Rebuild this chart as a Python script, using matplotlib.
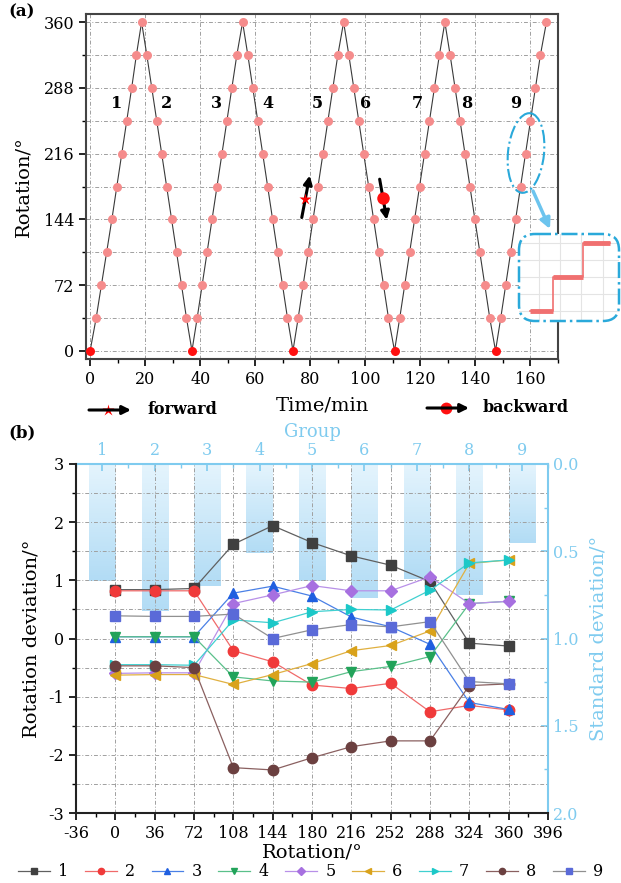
import numpy as np
import matplotlib.pyplot as plt
from matplotlib.patches import Ellipse, FancyBboxPatch
from matplotlib.colors import LinearSegmentedColormap
from matplotlib.ticker import MultipleLocator

plt.rcParams['font.family'] = ['DejaVu Serif']
plt.rcParams['mathtext.fontset'] = 'dejavuserif'
plt.rcParams['axes.unicode_minus'] = False

# ---- panel (a) data: rotation steps vs time ----
time_min = [
    0.0, 2.2, 4.1, 6.0, 7.9, 9.7, 11.5, 13.3, 15.1, 16.8, 18.7,
    20.6, 22.4, 24.2, 26.0, 27.8, 29.6, 31.4, 33.2, 35.0, 37.0,
    38.9, 40.7, 42.5, 44.3, 46.1, 47.9, 49.7, 51.5, 53.3, 55.4,
    57.3, 59.1, 60.9, 62.7, 64.5, 66.3, 68.1, 69.9, 71.7, 73.7,
    75.6, 77.4, 79.2, 81.0, 82.8, 84.6, 86.4, 88.2, 90.0, 92.1,
    94.0, 95.8, 97.6, 99.4, 101.2, 103.0, 104.8, 106.6, 108.4, 110.6,
    112.5, 114.3, 116.1, 117.9, 119.7, 121.5, 123.3, 125.1, 126.9, 128.9,
    130.8, 132.6, 134.4, 136.2, 138.0, 139.8, 141.6, 143.4, 145.2, 147.3,
    149.2, 151.0, 152.8, 154.6, 156.4, 158.2, 160.0, 161.8, 163.6, 165.8,
]
up_steps = [0, 36, 72, 108, 144, 180, 216, 252, 288, 324, 360]
down_steps = [324, 288, 252, 216, 180, 144, 108, 72, 36, 0]
rotation_deg = up_steps + down_steps + up_steps[1:] + down_steps + up_steps[1:] + down_steps \
    + up_steps[1:] + down_steps + up_steps[1:]

group_ids = [1, 2, 3, 4, 5, 6, 7, 8, 9]
group_label_t = [9.8, 27.6, 46.0, 64.6, 82.4, 100.0, 119.0, 136.8, 154.6]

# inset staircase (zoom of group 9)
inset_t = [155.86, 157.3, 157.3, 159.1, 159.1, 160.78]
inset_r = [180, 180, 216, 216, 252, 252]

# ---- panel (b) data ----
rot_pts = [0, 36, 72, 108, 144, 180, 216, 252, 288, 324, 360]
deviation = {
    '1': [0.84, 0.84, 0.86, 1.62, 1.94, 1.65, 1.42, 1.26, 0.98, -0.08, -0.13],
    '2': [0.82, 0.82, 0.82, -0.21, -0.40, -0.80, -0.86, -0.77, -1.26, -1.15, -1.23],
    '3': [0.03, 0.03, 0.03, 0.78, 0.90, 0.73, 0.37, 0.20, -0.10, -1.10, -1.22],
    '4': [0.03, 0.03, 0.03, -0.66, -0.73, -0.75, -0.57, -0.48, -0.31, 0.60, 0.64],
    '5': [-0.60, -0.59, -0.59, 0.60, 0.75, 0.91, 0.82, 0.82, 1.06, 0.60, 0.64],
    '6': [-0.63, -0.62, -0.62, -0.79, -0.62, -0.43, -0.21, -0.12, 0.13, 1.29, 1.35],
    '7': [-0.45, -0.45, -0.46, 0.32, 0.27, 0.46, 0.50, 0.49, 0.83, 1.30, 1.35],
    '8': [-0.47, -0.47, -0.50, -2.22, -2.26, -2.05, -1.86, -1.76, -1.76, -0.81, -0.78],
    '9': [0.39, 0.38, 0.38, 0.42, 0.00, 0.15, 0.24, 0.20, 0.29, -0.74, -0.78],
}
std_dev = [0.67, 0.84, 0.70, 0.51, 0.67, 0.77, 0.66, 0.75, 0.45]

marker_colors = ['#404040', '#F03A3A', '#1F5FE0', '#22A35A', '#A770E0',
                 '#D9A21B', '#1CC8C8', '#6B4040', '#5A6AD8']
line_colors = ['#606060', '#F06A6A', '#4A80E6', '#5AC08A', '#B890E8',
               '#E0B040', '#40D0D0', '#8A6060', '#909090']
markers = ['s', 'o', '^', 'v', 'D', '<', '>', 'o', 's']

blue = '#7FCBEF'
grid_kw = dict(color='#A0A0A0', lw=0.7, ls=(0, (4, 2, 1, 2)))

W, H = 621, 883
fig = plt.figure(figsize=(W / 100, H / 100), dpi=100)


def box(l, t, r, b):
    return [l / W, 1 - b / H, (r - l) / W, (b - t) / H]


# ================= panel (a) =================
ax = fig.add_axes(box(86, 14, 558, 359))
t = np.array(time_min)
r = np.array(rotation_deg)
ax.plot(t, r, color='#3A3A3A', lw=0.8, zorder=2)
zero = r == 0
ax.plot(t[~zero], r[~zero], 'o', color='#F58C8C', ms=6.5, mec='none', zorder=3)
ax.plot(t[zero], r[zero], 'o', color='#FF1010', ms=6.5, mec='none', zorder=3)
ax.set_xlim(-1.5, 170)
ax.set_ylim(-9, 369)
ax.xaxis.set_major_locator(MultipleLocator(20))
ax.xaxis.set_minor_locator(MultipleLocator(10))
ax.yaxis.set_major_locator(MultipleLocator(72))
ax.yaxis.set_minor_locator(MultipleLocator(36))
ax.grid(which='major', axis='x', **grid_kw)
ax.grid(which='both', axis='y', **grid_kw)
ax.set_axisbelow(True)
ax.tick_params(which='major', direction='out', length=5, width=1.2, labelsize=11.5)
ax.tick_params(which='minor', direction='out', length=3, width=1.0)
for s in ax.spines.values():
    s.set_color('#444444')
    s.set_linewidth(1.5)
ax.set_xlabel('Time/min', fontsize=14, labelpad=6)
ax.set_ylabel('Rotation/°', fontsize=14, labelpad=8)

for g, gt in zip(group_ids, group_label_t):
    ax.text(gt, 271, str(g), fontsize=11.5, fontweight='bold', ha='center', va='center')

ax.annotate('', xy=(79.8, 192), xytext=(76.9, 146),
            arrowprops=dict(arrowstyle='-|>,head_width=0.25,head_length=0.5',
                            color='black', lw=2.2, shrinkA=0, shrinkB=0), zorder=4)
ax.plot(78.0, 166, marker='*', color='red', ms=9, mec='none', zorder=5)
ax.annotate('', xy=(107.8, 143.5), xytext=(105.2, 188),
            arrowprops=dict(arrowstyle='-|>,head_width=0.25,head_length=0.5',
                            color='black', lw=2.2, shrinkA=0, shrinkB=0), zorder=4)
ax.plot(106.4, 167, 'o', color='#FF1010', ms=9, mec='none', zorder=5)

# inset
ins = fig.add_axes(box(519, 234, 619, 321))
ins.set_facecolor('white')
ins.set_xlim(155.2, 161.3)
ins.set_ylim(169.7, 261.3)
ins.set_xticks([156.4, 157.7, 159.0, 160.3])
ins.set_yticks([180, 198, 216, 234, 252])
ins.grid(color='#E4E4E4', lw=0.8)
ins.tick_params(length=0, labelbottom=False, labelleft=False)
for s in ins.spines.values():
    s.set_visible(False)
ins.plot(inset_t, inset_r, color='#F07070', lw=1.2)
for i in range(0, len(inset_t), 2):
    ins.plot(inset_t[i:i + 2], inset_r[i:i + 2], color='#F07070', lw=3.5, solid_capstyle='butt')

# ================= panel (b) =================
ax_bar = fig.add_axes(box(76, 464, 548, 813))
ax_b = fig.add_axes(box(76, 464, 548, 813))
ax_b.set_zorder(ax_bar.get_zorder() + 1)
ax_b.patch.set_visible(False)

cmap = LinearSegmentedColormap.from_list('barfade', ['#E4F4FD', '#B2DCF5'])
grad = np.linspace(1, 0, 64)[:, None]
for g, sd in zip(group_ids, std_dev):
    ax_bar.imshow(grad, extent=[g - 0.25, g + 0.25, sd, 0], origin='lower',
                  aspect='auto', cmap=cmap, vmin=0, vmax=1, zorder=1)
ax_bar.set_xlim(0.5, 9.5)
ax_bar.set_ylim(2.0, 0.0)
ax_bar.xaxis.tick_top()
ax_bar.yaxis.tick_right()
ax_bar.xaxis.set_label_position('top')
ax_bar.yaxis.set_label_position('right')
ax_bar.set_xticks(group_ids)
ax_bar.xaxis.set_minor_locator(MultipleLocator(0.5))
ax_bar.yaxis.set_major_locator(MultipleLocator(0.5))
ax_bar.yaxis.set_minor_locator(MultipleLocator(0.25))
ax_bar.yaxis.set_major_formatter(plt.FormatStrFormatter('%.1f'))
ax_bar.tick_params(which='major', direction='in', length=5, width=1.2, colors=blue, labelsize=11.5)
ax_bar.tick_params(which='minor', direction='in', length=3, width=1.0, colors=blue)
ax_bar.spines['left'].set_visible(False)
ax_bar.spines['bottom'].set_visible(False)
for side in ['top', 'right']:
    ax_bar.spines[side].set_color(blue)
    ax_bar.spines[side].set_linewidth(1.5)
ax_bar.set_xlabel('Group', color=blue, fontsize=13, labelpad=4)
ax_bar.set_ylabel('Standard deviation/°', color=blue, fontsize=14, labelpad=8)

for v in np.arange(0, 361, 36):
    ax_b.axvline(v, zorder=0, **grid_kw)
for h in np.arange(-2.5, 2.6, 0.5):
    ax_b.axhline(h, zorder=0, **grid_kw)

handles = []
for i, (name, vals) in enumerate(deviation.items()):
    ln, = ax_b.plot(rot_pts, vals, color=line_colors[i], lw=0.9, marker=markers[i],
                    ms=7.5 if markers[i] != 'D' else 6.5, mfc=marker_colors[i],
                    mec=marker_colors[i], zorder=3 + i)
    handles.append(ln)

ax_b.set_xlim(-36, 396)
ax_b.set_ylim(-3, 3)
ax_b.xaxis.set_major_locator(MultipleLocator(36))
ax_b.xaxis.set_minor_locator(MultipleLocator(18))
ax_b.yaxis.set_major_locator(MultipleLocator(1))
ax_b.yaxis.set_minor_locator(MultipleLocator(0.5))
ax_b.tick_params(which='major', direction='out', length=5, width=1.2, labelsize=11.5)
ax_b.tick_params(which='minor', direction='out', length=3, width=1.0)
ax_b.spines['top'].set_visible(False)
ax_b.spines['right'].set_visible(False)
for side in ['left', 'bottom']:
    ax_b.spines[side].set_color('#222222')
    ax_b.spines[side].set_linewidth(1.5)
ax_b.set_xlabel('Rotation/°', fontsize=14, labelpad=1)
ax_b.set_ylabel('Rotation deviation/°', fontsize=14, labelpad=6)

fig.legend(handles, list(deviation.keys()), ncol=9, loc='center',
           bbox_to_anchor=(0.5, 11 / H), frameon=False, fontsize=11.5,
           handlelength=2.0, handletextpad=0.5, columnspacing=1.05, markerscale=0.6,
           borderpad=0.1)

# ================= overlay decorations (pixel coords) =================
ov = fig.add_axes([0, 0, 1, 1])
ov.set_xlim(0, W)
ov.set_ylim(H, 0)
ov.axis('off')

ov.add_patch(Ellipse((526, 153), 36, 80, angle=6, fill=False, ec='#2AA9DA', lw=1.5, ls='-.'))
ov.add_patch(FancyBboxPatch((519, 234), 100, 87, boxstyle='round,pad=0,rounding_size=16',
                            fill=False, ec='#2AA9DA', lw=1.8, ls='-.'))
ov.annotate('', xy=(550, 229), xytext=(533, 191),
            arrowprops=dict(arrowstyle='-|>,head_width=0.3,head_length=0.6',
                            color='#6CC4EE', lw=2.5, shrinkA=0, shrinkB=0))

ov.annotate('', xy=(131, 410), xytext=(89, 410),
            arrowprops=dict(arrowstyle='-|>,head_width=0.25,head_length=0.5',
                            color='black', lw=2.2, shrinkA=0, shrinkB=0))
ov.plot(108, 410, '*', color='red', ms=9, mec='none')
ov.text(147, 410, 'forward', fontsize=11.5, fontweight='bold', va='center')

ov.annotate('', xy=(469, 408), xytext=(427, 408),
            arrowprops=dict(arrowstyle='-|>,head_width=0.25,head_length=0.5',
                            color='black', lw=2.2, shrinkA=0, shrinkB=0))
ov.plot(446, 408, 'o', color='#FF1010', ms=8.5, mec='none')
ov.text(483, 408, 'backward', fontsize=11.5, fontweight='bold', va='center')

ov.text(8, 12, '(a)', fontsize=12, fontweight='bold', va='center')
ov.text(8, 433, '(b)', fontsize=12, fontweight='bold', va='center')

fig.savefig('out.png', dpi=100)
